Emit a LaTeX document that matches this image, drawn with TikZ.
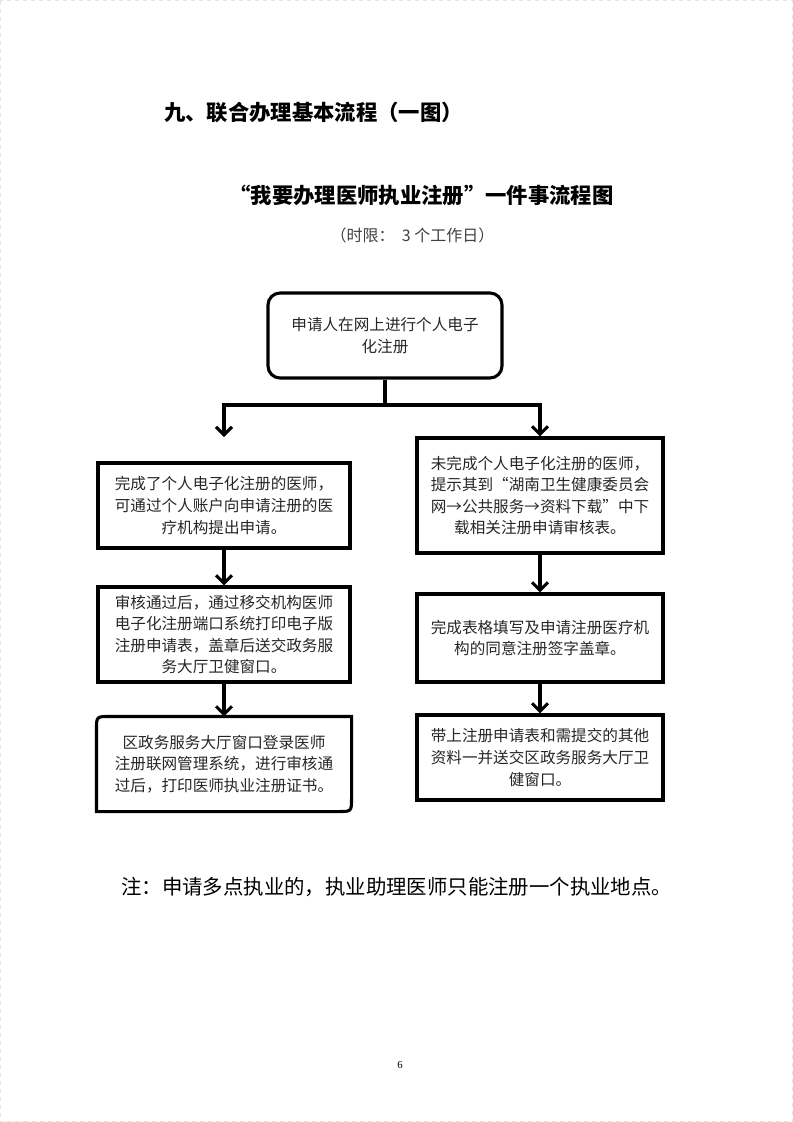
\documentclass[tikz,border=0pt]{standalone}
\usepackage{fontspec}
\setmainfont{Noto Sans CJK SC}
\newfontfamily\pagenumfont{Liberation Serif}
\usetikzlibrary{arrows.meta}
\begin{document}
\begin{tikzpicture}[x=0.75pt,y=-0.75pt,
  box/.style={draw, line width=2.3pt, align=center, inner sep=0pt, text=black!85,
    font=\fontsize{11.7pt}{16.2pt}\selectfont},
  arr/.style={line width=2.3pt, -{Straight Barb[length=6pt,width=12pt]}},
  conn/.style={line width=2.3pt},
  plain/.style={inner sep=0pt}]
\useasboundingbox (0,0) rectangle (793,1122);
\draw[gray!20, dashed, line width=0.4pt] (0.5,0.5) rectangle (792.5,1121.5);

% titles
\node[plain, anchor=west, font=\fontsize{16pt}{18pt}\selectfont\bfseries] (title) at (164,112) {九、联合办理基本流程（一图）};
\node[plain, font=\fontsize{16pt}{19pt}\selectfont\bfseries] (subtitle) at (421.5,195) {“我要办理医师执业注册”一件事流程图};
\node[plain, text=black!75, font=\fontsize{12pt}{14pt}\selectfont] (limit) at (412.5,235) {（时限：\ \ 3 个工作日）};

% boxes
\node[box, rounded corners=9pt, minimum width=175.5pt, minimum height=63.75pt] (top) at (385,335.5)
  {申请人在网上进行个人电子\\化注册};
\node[box, minimum width=189pt, minimum height=63.75pt] (lb2) at (224,505.5)
  {完成了个人电子化注册的医师，\\可通过个人账户向申请注册的医\\疗机构提出申请。};
\node[box, minimum width=189pt, minimum height=71.25pt] (lb3) at (224,634.5)
  {审核通过后，通过移交机构医师\\电子化注册端口系统打印电子版\\注册申请表，盖章后送交政务服\\务大厅卫健窗口。};
\node[box, draw=none, minimum width=189pt, minimum height=69pt] (lb4) at (224,764)
  {区政务服务大厅窗口登录医师\\注册联网管理系统，进行审核通\\过后，打印医师执业注册证书。};
\draw[line width=2.3pt] (lb4.south west) -- ([yshift=-10pt]lb4.north west)
  .. controls (lb4.north west) .. ([xshift=10pt]lb4.north west)
  -- (lb4.north east) -- ([yshift=10pt]lb4.south east)
  .. controls (lb4.south east) .. ([xshift=-10pt]lb4.south east) -- cycle;

\node[box, minimum width=184.5pt, minimum height=86.25pt] (rb2) at (540,495.5)
  {未完成个人电子化注册的医师，\\提示其到“湖南卫生健康委员会\\网→公共服务→资料下载”中下\\载相关注册申请审核表。};
\node[box, minimum width=184.5pt, minimum height=66pt] (rb3) at (540,638)
  {完成表格填写及申请注册医疗机\\构的同意注册签字盖章。};
\node[box, minimum width=184.5pt, minimum height=63.75pt] (rb4) at (540,757.5)
  {带上注册申请表和需提交的其他\\资料一并送交区政务服务大厅卫\\健窗口。};

% connectors
\coordinate (fork) at (385,405);
\coordinate (tipL) at (224,437);
\draw[conn] (top.south) -- (fork);
\draw[arr] (fork) -| (tipL);
\draw[arr] (fork) -| (rb2.north);
\draw[arr] (lb2.south) -- (lb3.north);
\draw[arr] (lb3.south) -- (lb4.north);
\draw[arr] (rb2.south) -- (rb3.north);
\draw[arr] (rb3.south) -- (rb4.north);

% note and page number
\node[plain, anchor=west, font=\fontsize{15.3pt}{18pt}\selectfont] (note) at (121,887)
  {注：申请多点执业的，执业助理医师只能注册一个执业地点。};
\node[plain, font=\fontsize{8pt}{9pt}\pagenumfont] (pnum) at (400,1065) {6};
\end{tikzpicture}
\end{document}
